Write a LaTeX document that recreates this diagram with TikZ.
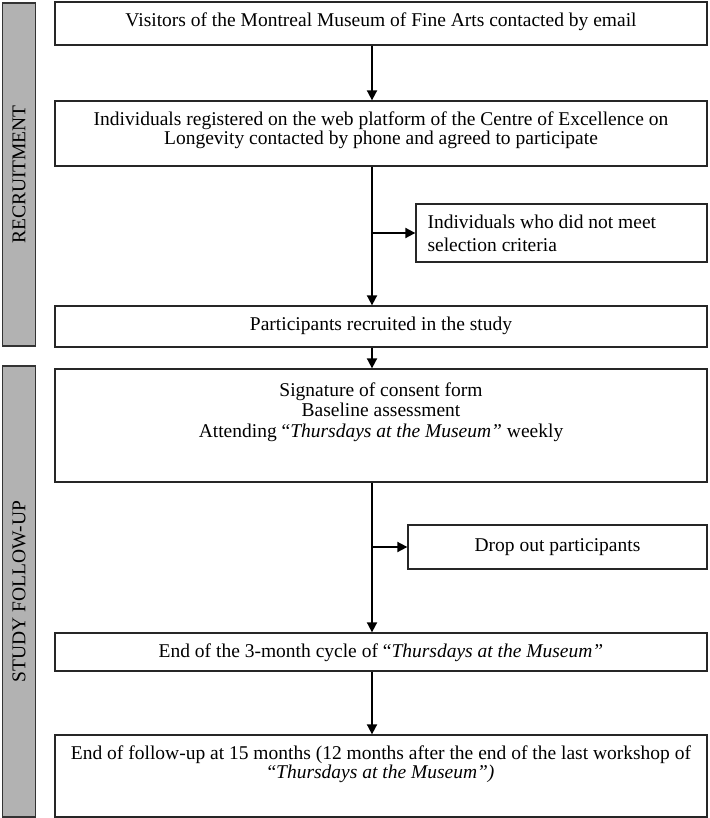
\documentclass[tikz,border=0pt]{standalone}
\usepackage{fontspec}
\setmainfont{Liberation Serif}
\usetikzlibrary{arrows.meta}

\tikzset{
  box/.style={draw=black!85, line width=1.3pt, inner sep=0pt, minimum width=652pt},
  side/.style={draw=black!85, line width=1.3pt, inner sep=0pt},
  txt/.style={anchor=north, align=center, inner sep=0pt, yshift=-11pt},
  phase/.style={draw=black!80, fill=black!30, line width=1.8pt, inner sep=0pt, rotate=90, minimum height=33pt},
  arr/.style={line width=1.8pt, -{Triangle[length=10pt,width=10pt]}},
}

\begin{document}
\begin{tikzpicture}[x=1pt,y=-1pt,font=\fontsize{19.5}{19.5}\selectfont]
  \useasboundingbox (0,0) rectangle (709,818);
  \coordinate (spine) at (372,0);

  \node[phase, minimum width=343pt] (recruit) at (19,174.5) {RECRUITMENT};
  \node[phase, minimum width=451pt] (followup) at (19,591.5) {STUDY FOLLOW-UP};

  \node[box, minimum height=43pt] (visitors) at (381,23.5) {};
  \node[box, minimum height=65pt] (registered) at (381,133.5) {};
  \node[side, minimum width=291pt, minimum height=58pt] (excluded) at (561.5,233) {};
  \node[box, minimum height=41pt] (recruited) at (381,326.5) {};
  \node[box, minimum height=113pt] (consent) at (381,425.5) {};
  \node[side, minimum width=299pt, minimum height=44pt] (dropout) at (557.5,547) {Drop out participants};
  \node[box, minimum height=38pt] (cycle) at (381,652) {};
  \node[box, minimum height=82pt] (final) at (381,776) {};

  \node[txt] (visitorstext) at (visitors.north) {Visitors of the Montreal Museum of Fine Arts contacted by email};
  \node[txt] (registeredtext) at (registered.north) {Individuals registered on the web platform of the Centre of Excellence on\\Longevity contacted by phone and agreed to participate};
  \node[txt, anchor=north west, align=left, xshift=12pt, font=\fontsize{19.5}{23}\selectfont] (excludedtext) at (excluded.north west) {Individuals who did not meet\\selection criteria};
  \node[txt] (recruitedtext) at (recruited.north) {Participants recruited in the study};
  \node[txt, yshift=-3pt, font=\fontsize{19.5}{20.5}\selectfont] (consenttext) at (consent.north) {Signature of consent form\\Baseline assessment\\Attending “\textit{Thursdays at the Museum”} weekly};
  \node[txt] (cycletext) at (cycle.north) {End of the 3-month cycle of “\textit{Thursdays at the Museum”}};
  \node[txt] (finaltext) at (final.north) {End of follow-up at 15 months (12 months after the end of the last workshop of\\“\textit{Thursdays at the Museum”)}};

  \draw[arr] (visitors.south -| spine) -- (registered.north -| spine);
  \draw[arr] (registered.south -| spine) -- (recruited.north -| spine);
  \draw[arr] (spine |- excluded.west) -- (excluded.west);
  \draw[arr] (recruited.south -| spine) -- (consent.north -| spine);
  \draw[arr] (consent.south -| spine) -- (cycle.north -| spine);
  \draw[arr] (spine |- dropout.west) -- (dropout.west);
  \draw[arr] (cycle.south -| spine) -- (final.north -| spine);
\end{tikzpicture}
\end{document}
